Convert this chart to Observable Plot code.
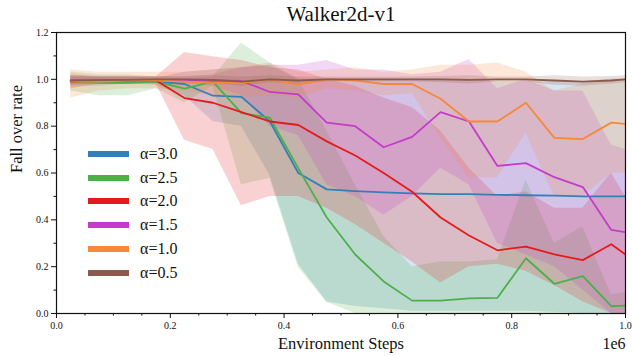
<!DOCTYPE html>
<html><head><meta charset="utf-8">
<script src="https://cdn.jsdelivr.net/npm/d3@7"></script>
<script src="https://cdn.jsdelivr.net/npm/@observablehq/plot@0.6"></script>
<style>
body{margin:0;background:#fff;}
#wrap{position:relative;width:632px;height:356px;}
#legend{position:absolute;left:88px;top:142px;font-family:"Liberation Serif",serif;font-size:16px;color:#111;}
.row{display:flex;align-items:center;height:23.8px;}
.sw{width:41px;height:6px;margin-right:11px;}
</style></head><body><div id="wrap"></div>
<script>
const steps = [25e3,75e3,125e3,175e3,225e3,275e3,325e3,375e3,425e3,475e3,525e3,575e3,625e3,675e3,725e3,775e3,825e3,875e3,925e3,975e3,1e6];
const labels = ["α=3.0","α=2.5","α=2.0","α=1.5","α=1.0","α=0.5"];
const colors = ["#377eb8","#4daf4a","#e41a1c","#c43bcc","#f5883a","#8b5a4c"];

const mean30 = [0.99,0.99,0.995,0.99,0.98,0.93,0.925,0.82,0.60,0.53,0.523,0.517,0.513,0.51,0.51,0.507,0.505,0.503,0.50,0.50,0.50];
const lo30   = [0.97,0.97,0.98,0.975,0.93,0.82,0.80,0.59,0.21,0.05,0.03,0.02,0.01,0.01,0.01,0.01,0.01,0.005,0.0,0.0,0.0];
const hi30   = [1.01,1.01,1.01,1.005,1.03,1.04,1.05,1.06,1.0,1.0,1.0,1.0,1.0,1.0,1.0,0.99,0.99,0.99,0.99,1.0,1.0];

const mean25 = [0.99,0.985,0.985,0.99,0.96,0.99,0.856,0.836,0.62,0.41,0.252,0.137,0.055,0.055,0.065,0.067,0.236,0.127,0.16,0.031,0.034];
const lo25   = [0.95,0.93,0.93,0.96,0.90,0.97,0.55,0.577,0.198,0.048,0.0,-0.02,-0.05,-0.05,-0.05,-0.05,-0.1,-0.05,-0.05,-0.02,-0.02];
const hi25   = [1.03,1.02,1.02,1.01,1.0,1.01,1.155,1.07,1.0,0.78,0.55,0.33,0.20,0.22,0.22,0.23,0.57,0.30,0.37,0.08,0.09];

const mean20 = [0.99,0.995,0.995,0.995,0.92,0.90,0.86,0.82,0.805,0.735,0.675,0.60,0.52,0.41,0.333,0.27,0.286,0.252,0.228,0.296,0.252];
const lo20   = [0.96,0.98,0.98,0.98,0.74,0.70,0.46,0.50,0.50,0.45,0.38,0.30,0.22,0.13,0.20,0.21,0.18,0.12,0.05,0.0,0.0];
const hi20   = [1.02,1.01,1.01,1.01,1.115,1.096,1.08,1.05,1.04,1.0,0.97,0.92,0.88,0.78,0.62,0.50,0.52,0.45,0.45,0.60,0.50];

const mean15 = [0.995,0.995,0.995,0.998,0.998,0.995,0.993,0.946,0.936,0.815,0.80,0.71,0.754,0.86,0.82,0.63,0.642,0.582,0.54,0.357,0.347];
const lo15   = [0.98,0.98,0.98,0.98,0.98,0.97,0.93,0.80,0.76,0.55,0.50,0.42,0.50,0.62,0.55,0.30,0.25,0.20,0.10,0.0,0.0];
const hi15   = [1.01,1.01,1.01,1.01,1.01,1.02,1.05,1.06,1.06,1.08,1.04,1.04,1.02,1.03,1.085,0.96,1.0,0.95,0.95,0.72,0.70];

const mean10 = [0.99,0.99,0.995,0.995,0.99,0.985,0.985,1.0,0.977,1.0,0.996,0.98,0.98,0.917,0.82,0.82,0.90,0.75,0.745,0.815,0.81];
const lo10   = [0.92,0.95,0.96,0.96,0.95,0.93,0.92,0.93,0.92,0.96,0.95,0.93,0.94,0.75,0.58,0.58,0.77,0.50,0.50,0.60,0.60];
const hi10   = [1.04,1.03,1.03,1.03,1.03,1.04,1.05,1.07,1.03,1.04,1.05,1.03,1.04,1.06,1.06,1.07,1.03,0.95,0.98,1.0,1.0];

const mean05 = [0.995,0.997,0.998,1.0,1.0,0.998,0.99,1.0,0.995,1.0,1.0,1.0,1.0,1.0,0.998,1.0,1.0,0.995,0.99,0.995,1.0];
const lo05   = [0.975,0.98,0.98,0.985,0.985,0.98,0.97,0.985,0.98,0.99,0.99,0.99,0.99,0.985,0.98,0.99,0.99,0.975,0.97,0.98,0.985];
const hi05   = [1.015,1.012,1.012,1.012,1.012,1.015,1.01,1.015,1.01,1.01,1.01,1.01,1.01,1.012,1.015,1.01,1.01,1.015,1.01,1.012,1.015];

const xMajor = [0,2e5,4e5,6e5,8e5,1e6];
const xMinor = [5e4,1e5,1.5e5,2.5e5,3e5,3.5e5,4.5e5,5e5,5.5e5,6.5e5,7e5,7.5e5,8.5e5,9e5,9.5e5];
const yMajor = [0,0.2,0.4,0.6,0.8,1.0,1.2];
const yMinor = [0.1,0.3,0.5,0.7,0.9,1.1];

const seriesData = [[mean30,lo30,hi30],[mean25,lo25,hi25],[mean20,lo20,hi20],[mean15,lo15,hi15],[mean10,lo10,hi10],[mean05,lo05,hi05]];
const table = [];
seriesData.forEach(([m,lo,hi],i) => steps.forEach((s,j) => table.push({series: labels[i], step: s, mean: m[j], lo: lo[j], hi: hi[j]})));

const serif = '"Liberation Serif", "Times New Roman", serif';
const chart = Plot.plot({
  width: 632, height: 356,
  marginLeft: 56, marginRight: 7, marginTop: 32, marginBottom: 43,
  style: {fontFamily: serif, fontSize: "10px", background: "white", color: "#111"},
  x: {domain: [0, 1e6]},
  y: {domain: [0, 1.2]},
  color: {domain: labels, range: colors},
  marks: [
    Plot.areaY(table, {x: "step", y1: "lo", y2: "hi", z: "series", fill: "series", fillOpacity: 0.2, clip: true}),
    Plot.line(table, {x: "step", y: "mean", z: "series", stroke: "series", strokeWidth: 1.8, clip: true}),
    Plot.axisX({ticks: xMajor, tickFormat: d => (d/1e6).toFixed(1), tickSize: 5, tickPadding: 3, label: null}),
    Plot.axisX({ticks: xMinor, tickFormat: () => "", tickSize: 2.5, label: null}),
    Plot.axisY({ticks: yMajor, tickFormat: d => d.toFixed(1), tickSize: 5, tickPadding: 3, label: null}),
    Plot.axisY({ticks: yMinor, tickFormat: () => "", tickSize: 2.5, label: null}),
    Plot.frame({stroke: "#111", strokeWidth: 1.2}),
    Plot.text(["Walker2d-v1"], {frameAnchor: "top", dy: -18, fontSize: 21, lineAnchor: "middle", fill: "#111"}),
    Plot.text(["Fall over rate"], {frameAnchor: "left", dx: -40, rotate: -90, fontSize: 16.5, lineAnchor: "middle", fill: "#111"}),
    Plot.text(["Environment Steps"], {frameAnchor: "bottom", dy: 30, fontSize: 16.5, lineAnchor: "middle", fill: "#111"}),
    Plot.text(["1e6"], {frameAnchor: "bottom-right", textAnchor: "end", dy: 30, fontSize: 16, lineAnchor: "middle", fill: "#111"})
  ]
});
const wrap = document.getElementById("wrap");
wrap.appendChild(chart);
const legend = document.createElement("div");
legend.id = "legend";
labels.forEach((l,i) => {
  const row = document.createElement("div"); row.className = "row";
  const sw = document.createElement("span"); sw.className = "sw"; sw.style.background = colors[i];
  const t = document.createElement("span"); t.textContent = l;
  row.appendChild(sw); row.appendChild(t); legend.appendChild(row);
});
wrap.appendChild(legend);
</script></body></html>
